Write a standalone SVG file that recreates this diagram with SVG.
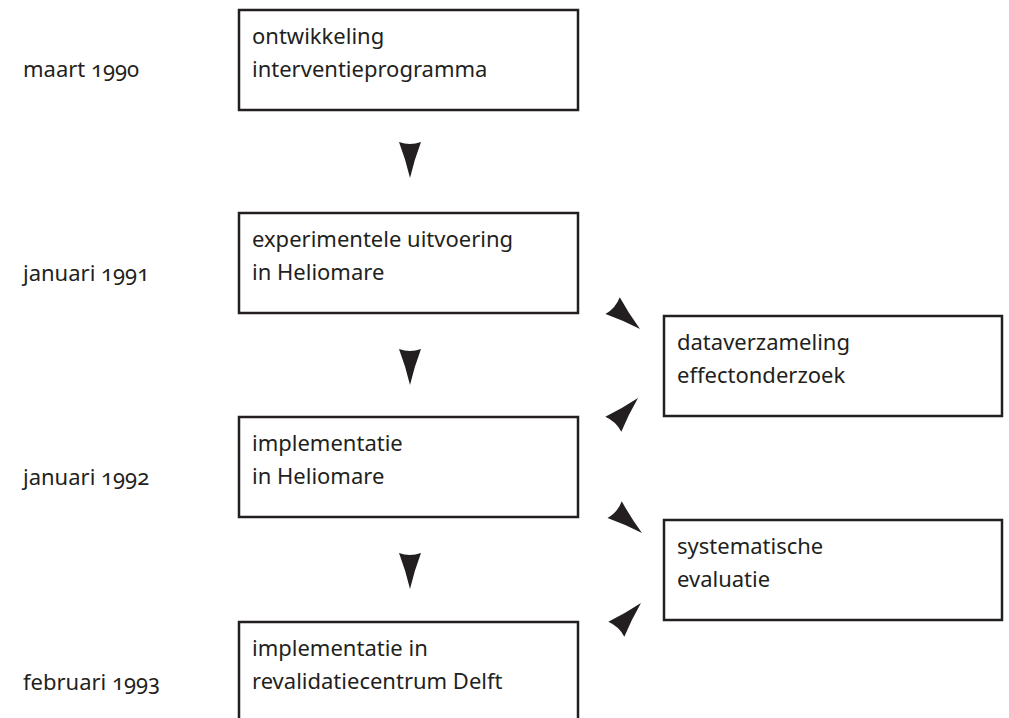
<svg xmlns="http://www.w3.org/2000/svg" width="1009" height="718" viewBox="0 0 1009 718">
<style>
.box{fill:#fff;stroke:#231f20;stroke-width:2.5}
text{font-family:"Noto Sans","Open Sans",sans-serif;font-size:22px;fill:#231f20;font-variant-numeric:oldstyle-nums}
.ah{fill:#231f20}
</style>
<defs>
<path id="arr" d="M0,0 Q-4.5,-19 -11,-36 Q0,-32 11,-36 Q4.5,-19 0,0 Z"/>
</defs>
<rect width="1009" height="718" fill="#fff"/>
<g id="labels">
<text x="23" y="77">maart 1990</text>
<text x="23" y="281">januari 1991</text>
<text x="23" y="485">januari 1992</text>
<text x="23" y="690">februari 1993</text>
</g>
<g id="n1"><rect class="box" x="239" y="10" width="339" height="100"/><text x="252" y="44">ontwikkeling</text><text x="252" y="77">interventieprogramma</text></g>
<g id="n2"><rect class="box" x="239" y="213" width="339" height="100"/><text x="252" y="247">experimentele uitvoering</text><text x="252" y="280">in Heliomare</text></g>
<g id="n3"><rect class="box" x="239" y="417" width="339" height="100"/><text x="252" y="451">implementatie</text><text x="252" y="484">in Heliomare</text></g>
<g id="n4"><rect class="box" x="239" y="622" width="339" height="110"/><text x="252" y="656">implementatie in</text><text x="252" y="689">revalidatiecentrum Delft</text></g>
<g id="n5"><rect class="box" x="664" y="316" width="338" height="100"/><text x="677" y="350">dataverzameling</text><text x="677" y="383">effectonderzoek</text></g>
<g id="n6"><rect class="box" x="664" y="520" width="338" height="100"/><text x="677" y="554">systematische</text><text x="677" y="587">evaluatie</text></g>
<g id="connectors" class="ah">
<use href="#arr" transform="translate(410,178)"/>
<use href="#arr" transform="translate(410,385)"/>
<use href="#arr" transform="translate(410,589)"/>
<use href="#arr" transform="translate(640,329) rotate(-49.5)"/>
<use href="#arr" transform="translate(638,398) rotate(-136.7)"/>
<use href="#arr" transform="translate(642,533) rotate(-49.5)"/>
<use href="#arr" transform="translate(641,603) rotate(-136.7)"/>
</g>
</svg>
